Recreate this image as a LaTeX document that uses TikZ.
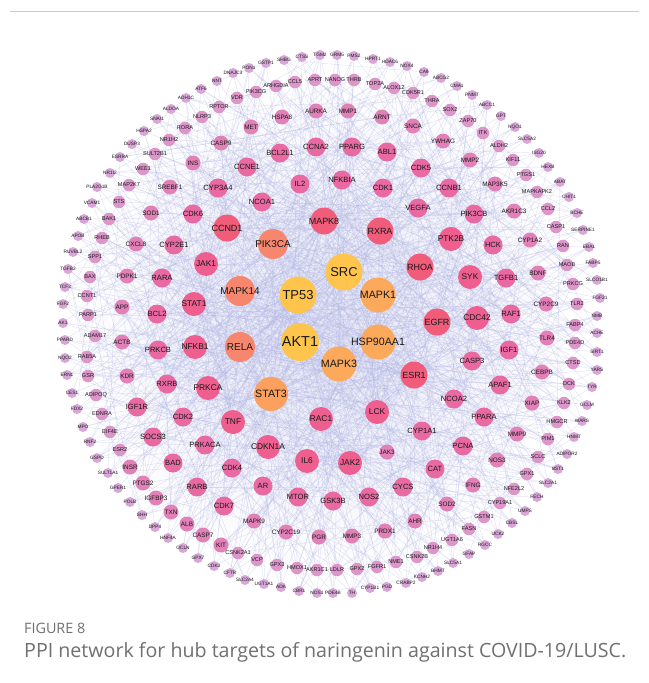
\documentclass[tikz,border=0pt]{standalone}
\usepackage{fontspec}
\setmainfont{Liberation Sans}
\newfontfamily\capfont{Open Sans}
\pgfdeclarelayer{back}
\pgfdeclarelayer{edges}
\pgfsetlayers{back,edges,main}
\definecolor{cA}{HTML}{FFC44B}
\definecolor{cC}{HTML}{FDA95C}
\definecolor{cS}{HTML}{FBA05F}
\definecolor{cD}{HTML}{F7866E}
\definecolor{cE}{HTML}{F15C7A}
\definecolor{cF}{HTML}{EE5E8E}
\definecolor{cG}{HTML}{E96AA3}
\definecolor{cH}{HTML}{E280B8}
\definecolor{cI}{HTML}{DD96CA}
\definecolor{cJ}{HTML}{D9A7D7}
\definecolor{edgec}{HTML}{B3B7E6}
\definecolor{haze}{HTML}{E6E7F5}
\definecolor{capgray}{HTML}{707070}
\definecolor{framegray}{HTML}{CCCCCC}
\tikzset{
  gn/.style={circle,inner sep=0pt,text=black!90},
  nA/.style={gn,minimum size=38bp,fill=cA,font=\fontsize{14.5}{15}\selectfont},
  nB/.style={gn,minimum size=37bp,fill=cA,font=\fontsize{13}{14}\selectfont},
  nC/.style={gn,minimum size=35bp,fill=cC,font=\fontsize{10.7}{12}\selectfont},
  nS/.style={gn,minimum size=34bp,fill=cS,font=\fontsize{10.7}{12}\selectfont},
  nD/.style={gn,minimum size=30bp,fill=cD,font=\fontsize{10}{11}\selectfont},
  nE/.style={gn,minimum size=27bp,fill=cE,font=\fontsize{9}{10}\selectfont},
  nF/.style={gn,minimum size=24bp,fill=cF,font=\fontsize{8.4}{9}\selectfont},
  nG/.style={gn,minimum size=19bp,fill=cG,font=\fontsize{7.6}{8}\selectfont},
  nH/.style={gn,minimum size=15bp,fill=cH,font=\fontsize{6.4}{7}\selectfont},
  nI/.style={gn,minimum size=12.5bp,fill=cI,font=\fontsize{5.6}{6}\selectfont},
  nJ/.style={gn,minimum size=10bp,fill=cJ,font=\fontsize{4.8}{5}\selectfont},
  edge/.style={draw=edgec,line width=0.45bp,opacity=0.38},
  caplabel/.style={anchor=base west,inner sep=0pt,text=capgray}
}
\begin{document}
\begin{tikzpicture}[x=1bp,y=-1bp]
\begin{pgfonlayer}{back}
\fill[white] (0,0) rectangle (649,683);
\shade[inner color=haze,outer color=white] (325,330) circle (250);
\end{pgfonlayer}
\useasboundingbox (0,0) rectangle (649,683);
\draw[framegray,line width=1bp] (10,12) -- (639,12);
\foreach \n/\x/\y/\s [count=\i] in {
AKT1/300/342/nA, SRC/344/272/nB, TP53/298/295/nB, MAPK1/378/295/nC, HSP90AA1/378/342/nC,
MAPK3/339/364/nC, STAT3/271/394/nS, MAPK14/240/291/nD, RELA/240/347/nD, PIK3CA/273/244/nD,
MAPK8/324/221/nE, RXRA/380/231/nE, RHOA/420/267/nE, EGFR/437/322/nE, ESR1/414/375/nE, CCND1/227/228/nE,
LCK/377/412/nF, RAC1/321/419/nF, TNF/233/422/nF, PRKCA/208/388/nF, NFKB1/195/347/nF, STAT1/194/304/nF,
JAK1/206/264/nF, IL6/307/461/nF, JAK2/350/463/nF, CDKN1A/268/447/nF, PTK2B/451/239/nF, CDC42/477/318/nF, SYK/470/277/nF,
NCOA1/262/202/nG, IL2/300/184/nG, NFKBIA/342/180/nG, CDK1/383/188/nG, VEGFA/418/208/nG, CASP3/472/361/nG,
NCOA2/454/399/nG, CYP1A1/422/431/nG, CDK4/232/468/nG, PRKACA/205/445/nG, CDK2/183/417/nG, RXRB/167/384/nG,
PRKCB/158/350/nG, BCL2/157/314/nG, RARA/162/278/nG, CYP2E1/174/245/nG, CDK6/193/214/nG, CYP3A4/218/188/nG,
CCNE1/247/167/nG, BCL2L1/280/153/nG, CCNA2/316/147/nG, PPARG/352/147/nG, ABL1/387/152/nG, CDK5/421/168/nG,
CCNB1/449/188/nG, PIK3CB/474/214/nG, HCK/493/245/nG, TGFB1/506/278/nG, RAF1/511/314/nG, IGF1/509/350/nG,
APAF1/500/385/nG, PPARA/484/417/nG, PCNA/463/446/nG, CAT/435/469/nG, CYCS/403/487/nG, NOS2/369/497/nG,
GSK3B/333/501/nG, MTOR/298/497/nG, AR/263/486/nG, CDK7/224/506/nG, RARB/197/487/nG, BAD/173/463/nG,
SOCS3/153/437/nG, IGF1R/137/407/nG,
JAK3/387/452/nH, KDR/127/376/nH, ACTB/122/342/nH, APP/122/307/nH, PDPK1/127/276/nH, CXCL8/136/244/nH,
SOD1/151/213/nH, SREBF1/170/187/nH, INS/193/163/nH, CASP9/221/143/nH, MET/251/127/nH, HSPA8/282/117/nH,
AURKA/316/111/nH, MMP1/348/111/nH, ARNT/382/117/nH, SNCA/413/126/nH, YWHAG/443/141/nH, MMP2/470/160/nH,
MAP3K5/495/184/nH, AKR1C3/514/211/nH, CYP1A2/530/240/nH, BDNF/538/273/nH, CYP2C9/546/304/nH, TLR4/547/338/nH,
CEBPB/542/372/nH, XIAP/532/403/nH, MMP9/517/434/nH, NOS3/497/460/nH, IFNG/473/485/nH, SOD2/447/504/nH,
AHR/415/521/nH, PRDX1/385/531/nH, MMP3/352/536/nH, PGR/319/537/nH, CYP2C19/286/532/nH, MAPK9/254/521/nH,
KIT/221/545/nH, CASP7/203/535/nH, ALB/187/524/nH, TXN/171/512/nH, IGFBP3/156/498/nH, PTGS2/143/483/nH, INSR/130/467/nH,
ESR2/120/450/nI, EIF4E/110/432/nI, EDNRA/102/414/nI, ADIPOQ/96/395/nI, GSR/88/376/nI, RAB5A/87/357/nI,
ADAM17/95/336/nI, PARP1/88/315/nI, CCNT1/87/296/nI, BAX/90/277/nI, SPP1/95/257/nI, RHEB/102/238/nI,
BAK1/109/219/nI, STS/119/202/nI, MAP2K7/129/185/nI, WEE1/143/169/nI, SULT2B1/155/154/nI, NR1H2/169/140/nI,
RORA/185/128/nI, NLRP3/202/117/nI, RPTOR/219/107/nI, VDR/237/98/nI, PIK3CG/256/92/nI, ARHGDIA/276/86/nI,
CCL5/295/82/nI, APRT/315/80/nI, NANOG/335/80/nI, THRB/354/80/nI, TOP2A/375/84/nI, ALOX12/394/88/nI,
CDK5R1/413/93/nI, THRA/432/101/nI, SOX2/450/110/nI, ZAP70/468/121/nI, ITK/483/133/nI, ALDH2/499/146/nI,
KIF11/513/160/nI, PTGS1/526/175/nI, MAPKAPK2/537/192/nI, CCL2/548/209/nI, CASP1/556/227/nI, RAN/563/246/nI,
MAOB/567/265/nI, PRKCG/573/284/nI, TLR2/577/304/nI, FABP4/575/325/nI, PDE4D/575/343/nI, CTSD/573/363/nI,
DCK/569/384/nI, KLK2/564/403/nI, HMGCR/557/422/nI, PIM1/548/439/nI, SCLC/538/457/nI, GPX1/527/474/nI,
NFE2L2/514/489/nI, CYP19A1/500/503/nI, GSTM1/484/517/nI, FASN/469/529/nI, UGT1A6/452/540/nI, NR1H4/433/548/nI,
CSNK2B/417/557/nI, NME1/396/562/nI, FGFR1/377/567/nI, GPX2/357/569/nI, LDLR/337/570/nI, AKR1C1/317/570/nI,
HMOX1/297/568/nI, GPX3/277/565/nI, VCP/257/560/nI, CSNK2A1/238/553/nI,
PON1/249/68/nJ, GSTP1/266/63/nJ, SHBG/284/60/nJ, CTSS/302/57/nJ, TGM2/320/55/nJ, GRM5/337/55/nJ,
PMS2/354/56/nJ, HPRT1/373/59/nJ, HDAC6/390/62/nJ, NOX4/407/66/nJ, CA9/424/72/nJ, ABCG2/441/78/nJ,
CMA1/457/86/nJ, PNMT/472/95/nJ, ABCC1/487/105/nJ, GPT/501/116/nJ, NQO1/515/127/nJ, SLC5A2/527/139/nJ,
ISG20/539/153/nJ, HEXB/548/167/nJ, ABAT/560/182/nJ, CHIT1/569/197/nJ, BCHE/577/213/nJ, SERPINE1/583/230/nJ,
EBA1/589/247/nJ, FABP5/593/263/nJ, SLCO1B1/597/280/nJ, FGF21/600/298/nJ, NMB/597/316/nJ, ACHE/597/333/nJ,
SIRT1/597/352/nJ, YARS/597/370/nJ, TYR/592/387/nJ, GCLM/587/405/nJ, WARS/582/421/nJ, HNMT/574/437/nJ,
ADIPOR2/567/454/nJ, BST1/558/469/nJ, SLC2A1/548/483/nJ, FECH/537/497/nJ, UMPS/525/511/nJ, CBSL/512/523/nJ,
UCK2/498/534/nJ, RGCC/485/545/nJ, GFAP/469/554/nJ, SLC5A1/453/563/nJ, BHMT/438/571/nJ, KCNH2/422/577/nJ,
CRABP2/406/583/nJ, PGD/387/587/nJ, CYP1B1/370/588/nJ, TH/352/593/nJ, PDE4B/333/593/nJ, NOS1/317/593/nJ,
CBR1/299/591/nJ, ADK/281/587/nJ, UGT1A1/264/584/nJ, SLC2A4/245/580/nJ, CFTR/230/573/nJ, CDK3/214/566/nJ,
GPX7/198/558/nJ, OCLN/183/548/nJ, HNF4A/168/538/nJ, DPP4/155/527/nJ, SHH/142/515/nJ, POLB/130/502/nJ,
GPER1/118/488/nJ, SULT1A1/108/473/nJ, GSPD/97/458/nJ, RNF2/90/442/nJ, MPO/83/427/nJ, FDX2/77/409/nJ,
CES1/72/393/nJ, ERN1/67/375/nJ, NQO2/65/358/nJ, PPARD/65/340/nJ, AK1/63/323/nJ, FGF2/63/304/nJ,
TCF3/65/287/nJ, TGFB2/68/269/nJ, RUVBL2/73/252/nJ, APOB/78/236/nJ, ABCB1/84/219/nJ, VCAM1/92/203/nJ,
PLA2G1B/97/187/nJ, NR1I2/110/173/nJ, ESRRA/120/157/nJ, DUSP3/132/144/nJ, HSPA2/144/131/nJ, SNAI1/157/119/nJ,
ALDOA/171/109/nJ, ADH1C/186/98/nJ, ATF6/201/89/nJ, NNT/217/81/nJ, DNAJC3/233/73/nJ}{
  \edef\mknode{\noexpand\node[\s] (\n) at (\x,\y) {\noexpand\makebox[0pt]{\n}};}
  \mknode
  \expandafter\xdef\csname vn\i\endcsname{\n}
  \xdef\NN{\i}
}
\begin{pgfonlayer}{edges}
\pgfmathsetseed{11}
\foreach \i in {2,...,\NN}{
  \pgfmathtruncatemacro\ja{random(1,min(\i-1,20))}
  \pgfmathtruncatemacro\jb{random(1,min(\i-1,60))}
  \pgfmathtruncatemacro\jc{random(1,min(\i-1,150))}
  \pgfmathtruncatemacro\jd{random(1,\NN)}
  \edef\mkedge{\noexpand\draw[edge] (\csname vn\i\endcsname.center) -- (\csname vn\ja\endcsname.center)
     (\csname vn\i\endcsname.center) -- (\csname vn\jb\endcsname.center)
     (\csname vn\i\endcsname.center) -- (\csname vn\jc\endcsname.center)
     (\csname vn\i\endcsname.center) -- (\csname vn\jd\endcsname.center);}
  \mkedge
}
\end{pgfonlayer}
\node[caplabel,font=\capfont\fontsize{14.4}{15}\selectfont] (figlabel) at (24,633) {FIGURE 8};
\node[caplabel,font=\capfont\fontsize{19.7}{20}\selectfont] (caption) at (24,657) {PPI network for hub targets of naringenin against COVID-19/LUSC.};
\end{tikzpicture}
\end{document}
